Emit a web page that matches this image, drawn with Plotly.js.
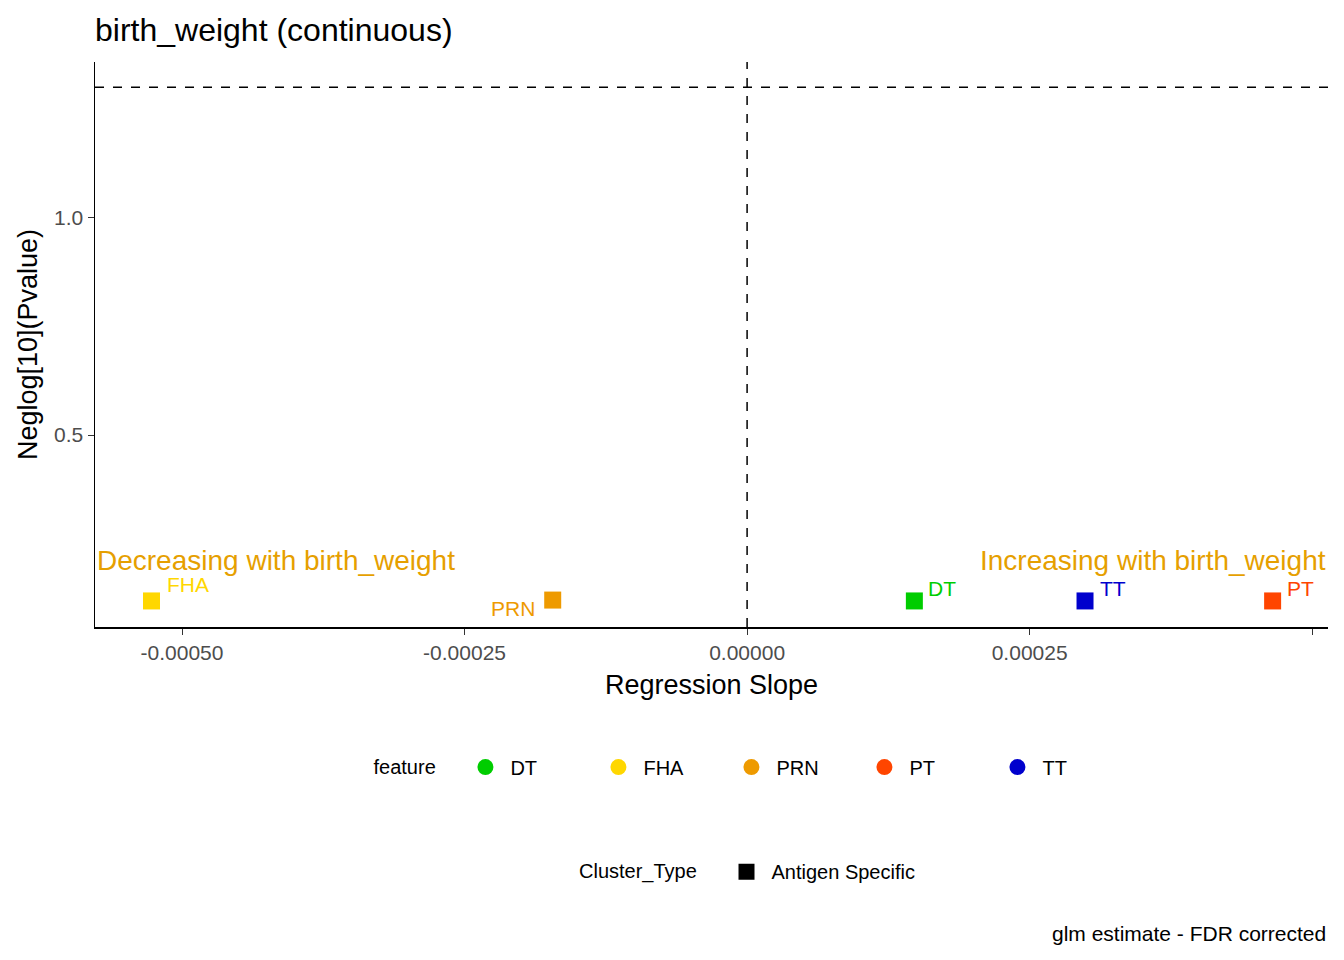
<!DOCTYPE html>
<html><head><meta charset="utf-8">
<script src="https://cdn.plot.ly/plotly-3.0.1.min.js"></script>
<style>body{margin:0;background:#fff}#chart{width:1344px;height:960px}</style>
</head><body><div id="chart"></div>
<script>
// Data
const features = ['DT', 'FHA', 'PRN', 'PT', 'TT'];
const slopes   = [0.000148, -0.000527, -0.000172, 0.000465, 0.000299];
const neglogP  = [0.118, 0.118, 0.120, 0.118, 0.118];
const colors   = ['#00CD00', '#FFD700', '#EE9A00', '#FF4500', '#0000CD'];
// label offsets (px): FHA/DT/TT/PT up-right, PRN down-left
const labelDx  = [28, 36, -40, 28, 28];
const labelDy  = [-12, -16, 8, -12, -12];

const FONT = 'Liberation Sans, Arial, sans-serif';

const traces = [{
  type: 'scatter', mode: 'markers', x: slopes, y: neglogP,
  marker: { symbol: 'square', size: 17, color: colors },
  showlegend: false, hoverinfo: 'skip'
}];
features.forEach((f, i) => traces.push({
  type: 'scatter', mode: 'markers', x: [null], y: [null], name: f,
  marker: { symbol: 'circle', size: 18, color: colors[i] }, legend: 'legend'
}));
traces.push({
  type: 'scatter', mode: 'markers', x: [null], y: [null], name: 'Antigen Specific',
  marker: { symbol: 'square', size: 18, color: '#000' }, legend: 'legend2'
});

const annotations = features.map((f, i) => ({
  x: slopes[i], y: neglogP[i], text: f, showarrow: true, arrowcolor: 'rgba(0,0,0,0)',
  ax: labelDx[i], ay: labelDy[i], font: { family: FONT, size: 21, color: colors[i] }
}));
annotations.push(
  { xref: 'paper', yref: 'y', x: 0, y: 0.212, xanchor: 'left', text: 'Decreasing with birth_weight',
    showarrow: false, font: { family: FONT, size: 28, color: '#E69F00' } },
  { xref: 'paper', yref: 'y', x: 1, y: 0.212, xanchor: 'right', text: 'Increasing with birth_weight',
    showarrow: false, font: { family: FONT, size: 28, color: '#E69F00' } },
  { xref: 'paper', yref: 'paper', x: 1, y: -0.543, xanchor: 'right', yanchor: 'middle',
    text: 'glm estimate - FDR corrected', showarrow: false, font: { family: FONT, size: 21, color: '#000' } }
);

const layout = {
  width: 1344, height: 960,
  margin: { l: 95, r: 16, t: 62, b: 333 },
  paper_bgcolor: '#fff', plot_bgcolor: '#fff',
  font: { family: FONT, color: '#000' },
  title: { text: 'birth_weight (continuous)', x: 95 / 1344, xanchor: 'left',
           yref: 'container', y: 1 - 30 / 960, yanchor: 'middle',
           font: { size: 32, color: '#000' } },
  xaxis: {
    range: [-0.000577, 0.000514], tickvals: [-0.0005, -0.00025, 0, 0.00025, 0.0005],
    ticktext: ['-0.00050', '-0.00025', '0.00000', '0.00025', '0.00050'],
    showgrid: false, zeroline: false, showline: true, linecolor: '#000', linewidth: 1.5,
    ticks: 'outside', ticklen: 6, tickcolor: '#333', tickfont: { size: 21, color: '#4d4d4d' },
    title: { text: 'Regression Slope', font: { size: 27 }, standoff: 12 }
  },
  yaxis: {
    range: [0.058, 1.359], tickvals: [0.5, 1.0], ticktext: ['0.5', '1.0'],
    showgrid: false, zeroline: false, showline: true, linecolor: '#000', linewidth: 1.5,
    ticks: 'outside', ticklen: 6, tickcolor: '#333', tickfont: { size: 21, color: '#4d4d4d' },
    title: { text: 'Neglog[10](Pvalue)', font: { size: 27 }, standoff: 8 }
  },
  shapes: [
    { type: 'line', xref: 'paper', x0: 0, x1: 1, yref: 'y', y0: 1.301, y1: 1.301,
      line: { color: '#000', width: 1.5, dash: 'dash' } },
    { type: 'line', xref: 'x', x0: 0, x1: 0, yref: 'paper', y0: 0, y1: 1,
      line: { color: '#000', width: 1.5, dash: 'dash' } }
  ],
  annotations: annotations,
  legend: {
    orientation: 'h', x: 0.53, xanchor: 'center', y: -0.248, yanchor: 'middle',
    title: { text: 'feature   ', side: 'left', font: { size: 20 } },
    font: { size: 20 }, entrywidth: 78, entrywidthmode: 'pixels', itemwidth: 40
  },
  legend2: {
    orientation: 'h', x: 0.53, xanchor: 'center', y: -0.433, yanchor: 'middle',
    title: { text: 'Cluster_Type   ', side: 'left', font: { size: 20 } },
    font: { size: 20 }, itemwidth: 40
  }
};

Plotly.newPlot('chart', traces, layout, { displayModeBar: false, staticPlot: true });
</script></body></html>
